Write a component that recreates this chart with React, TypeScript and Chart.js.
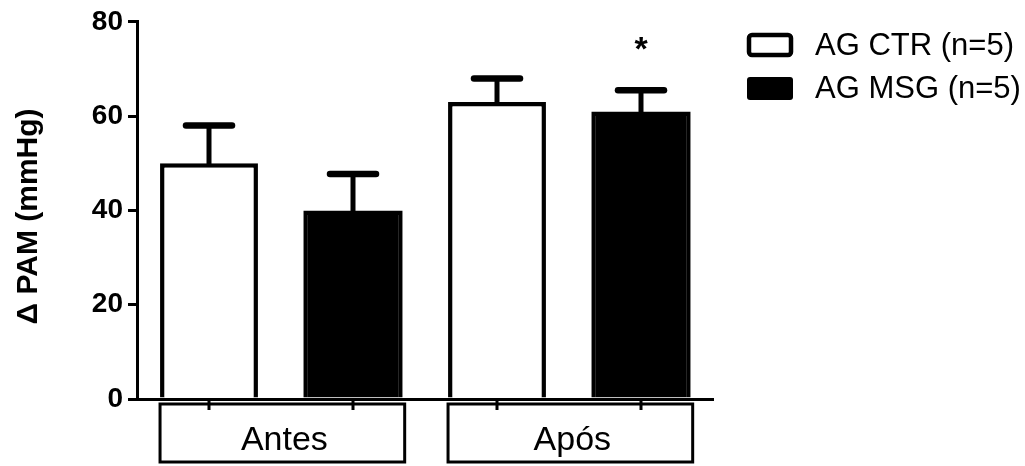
import React, { useEffect, useRef } from "react";
import { Chart, registerables } from "chart.js";

Chart.register(...registerables);

const categories = ["Antes", "Após"];
const seriesNames = ["AG CTR (n=5)", "AG MSG (n=5)"];
const ctrValues = [50, 63];
const msgValues = [40, 61];
const ctrErrors = [8, 5];
const msgErrors = [7.7, 4.5];
const yTicks = [0, 20, 40, 60, 80];
const yTitle = "Δ PAM (mmHg)";
const starMarks = [[1, 1]]; // [datasetIndex, categoryIndex]

const FONT = "'Liberation Sans', Arial, sans-serif";

const customPlugin = {
  id: "customDraw",
  afterDatasetsDraw(chart: any) {
    const ctx = chart.ctx;
    const yScale = chart.scales.y;
    const area = chart.chartArea;
    const errs = [ctrErrors, msgErrors];
    ctx.save();
    ctx.strokeStyle = "#000";
    ctx.fillStyle = "#000";
    // error bars
    chart.data.datasets.forEach((ds: any, di: number) => {
      const meta = chart.getDatasetMeta(di);
      meta.data.forEach((el: any, i: number) => {
        const v = ds.data[i];
        const top = yScale.getPixelForValue(v + errs[di][i]);
        ctx.lineCap = "butt";
        ctx.lineWidth = 5;
        ctx.beginPath();
        ctx.moveTo(el.x, el.y + 2);
        ctx.lineTo(el.x, top);
        ctx.stroke();
        ctx.lineCap = "round";
        ctx.lineWidth = 6.5;
        ctx.beginPath();
        ctx.moveTo(el.x - 23, top);
        ctx.lineTo(el.x + 23, top);
        ctx.stroke();
      });
    });
    // stars
    ctx.lineCap = "butt";
    starMarks.forEach(([di, ci]) => {
      const el = chart.getDatasetMeta(di).data[ci];
      const v = chart.data.datasets[di].data[ci];
      const top = yScale.getPixelForValue(v + errs[di][ci]);
      ctx.font = `bold 34px ${FONT}`;
      ctx.textAlign = "center";
      ctx.textBaseline = "alphabetic";
      ctx.fillText("*", el.x, top - 30);
    });
    // x tick marks and category boxes
    const m0 = chart.getDatasetMeta(0);
    const m1 = chart.getDatasetMeta(1);
    categories.forEach((cat, i) => {
      const e0 = m0.data[i];
      const e1 = m1.data[i];
      const left = e0.x - e0.width / 2;
      const right = e1.x + e1.width / 2 + 2;
      const top = area.bottom + 5;
      const bottom = area.bottom + 63;
      ctx.lineWidth = 3;
      ctx.strokeRect(left, top, right - left, bottom - top);
      ctx.beginPath();
      [e0.x, e1.x].forEach((x) => {
        ctx.moveTo(x, area.bottom);
        ctx.lineTo(x, area.bottom + 11);
      });
      ctx.stroke();
      ctx.font = `34px ${FONT}`;
      ctx.textAlign = "center";
      ctx.textBaseline = "middle";
      ctx.fillText(cat, (left + right) / 2 + 2, area.bottom + 42);
    });
    // y title
    ctx.save();
    ctx.translate(29, (area.top + area.bottom) / 2 + 6);
    ctx.rotate(-Math.PI / 2);
    ctx.font = `bold 30px ${FONT}`;
    ctx.textAlign = "center";
    ctx.textBaseline = "middle";
    ctx.fillText(yTitle, 0, 0);
    ctx.restore();
    // legend
    const lx = area.right + 34;
    ctx.lineWidth = 4.5;
    ctx.beginPath();
    (ctx as any).roundRect(lx + 2, 35, 42, 20, 3);
    ctx.stroke();
    ctx.beginPath();
    (ctx as any).roundRect(lx, 77, 46, 23, 3);
    ctx.fill();
    ctx.font = `31px ${FONT}`;
    ctx.textAlign = "left";
    ctx.textBaseline = "middle";
    ctx.fillText(seriesNames[0], lx + 68, 46);
    ctx.fillText(seriesNames[1], lx + 68, 89);
    ctx.restore();
  },
};

export default function App() {
  const ref = useRef<HTMLCanvasElement | null>(null);
  useEffect(() => {
    if (!ref.current) return;
    const chart = new Chart(ref.current, {
      type: "bar",
      data: {
        labels: categories,
        datasets: [
          {
            label: seriesNames[0],
            data: ctrValues,
            backgroundColor: "#ffffff",
            borderColor: "#000000",
            borderWidth: 4.5,
            barPercentage: 0.68,
            categoryPercentage: 1,
          },
          {
            label: seriesNames[1],
            data: msgValues,
            backgroundColor: "#000000",
            borderColor: "#000000",
            borderWidth: 4.5,
            barPercentage: 0.69,
            categoryPercentage: 1,
          },
        ],
      },
      options: {
        responsive: false,
        animation: false,
        layout: { padding: { left: 0, right: 312, top: 20, bottom: 0 } },
        plugins: {
          legend: { display: false },
          tooltip: { enabled: false },
        },
        scales: {
          x: {
            ticks: { display: false },
            grid: { display: false, drawTicks: false },
            border: { display: true, color: "#000", width: 3 },
            afterFit: (s: any) => {
              s.height = 67;
            },
          },
          y: {
            min: 0,
            max: 80,
            afterBuildTicks: (s: any) => {
              s.ticks = yTicks.map((v) => ({ value: v }));
            },
            ticks: {
              color: "#000",
              padding: 5,
              font: { family: FONT, size: 28, weight: "bold" },
            },
            grid: {
              display: true,
              drawOnChartArea: false,
              drawTicks: true,
              tickLength: 9,
              lineWidth: 3,
              color: "#000",
            },
            border: { display: true, color: "#000", width: 3 },
            afterFit: (s: any) => {
              s.width = 137;
            },
          },
        },
      },
      plugins: [customPlugin],
    } as any);
    return () => chart.destroy();
  }, []);
  return (
    <div style={{ position: "fixed", left: 0, top: 0, width: 1025, height: 466, background: "#fff" }}>
      <canvas ref={ref} width={1025} height={466} style={{ width: 1025, height: 466, display: "block" }} />
    </div>
  );
}
